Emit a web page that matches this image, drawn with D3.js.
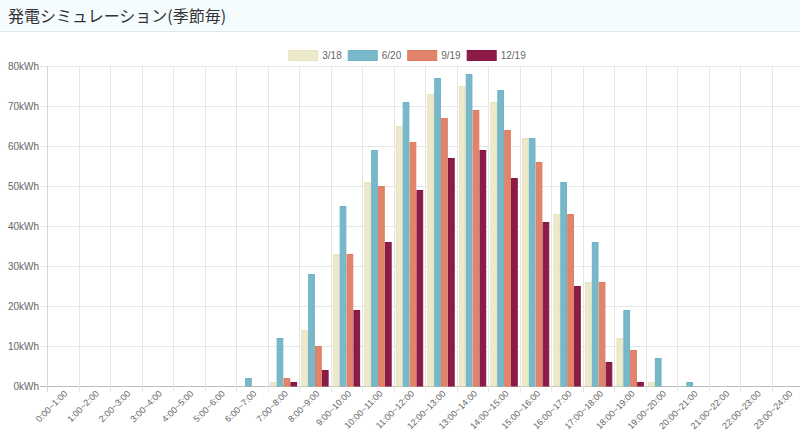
<!DOCTYPE html>
<meta charset="utf-8">
<script src="https://d3js.org/d3.v7.js"></script>
<style>
  body { margin: 0; background: #fff; font-family: "Liberation Sans", Arial, sans-serif; }
  #header { height: 31px; background: #f5fcfe; border-bottom: 1px solid #dde8ea; }
  #header h1 { margin: 0; padding: 4px 0 0 8px; font-size: 16px; font-weight: normal; color: #333;
    font-family: "Noto Sans CJK JP", sans-serif; line-height: 22px; }
</style>
<div id="header"><h1>発電シミュレーション(季節毎)</h1></div>
<div id="my_dataviz"></div>
<script>

// time slots
const hours = ["0:00~1:00","1:00~2:00","2:00~3:00","3:00~4:00","4:00~5:00","5:00~6:00",
  "6:00~7:00","7:00~8:00","8:00~9:00","9:00~10:00","10:00~11:00","11:00~12:00",
  "12:00~13:00","13:00~14:00","14:00~15:00","15:00~16:00","16:00~17:00","17:00~18:00",
  "18:00~19:00","19:00~20:00","20:00~21:00","21:00~22:00","22:00~23:00","23:00~24:00"];

const seasons = ["3/18", "6/20", "9/19", "12/19"];

// kWh per hour
const mar = [0,0,0,0,0,0,0,1,14,33,51,65,73,75,71,62,43,26,12,1,0,0,0,0];
const jun = [0,0,0,0,0,0,2,12,28,45,59,71,77,78,74,62,51,36,19,7,1,0,0,0];
const sep = [0,0,0,0,0,0,0,2,10,33,50,61,67,69,64,56,43,26,9,0,0,0,0,0];
const dec = [0,0,0,0,0,0,0,1,4,19,36,49,57,59,52,41,25,6,1,0,0,0,0,0];

const yTicks = [0,10,20,30,40,50,60,70,80];

const fills   = ["#ede9cb", "#78b8c9", "#e2846b", "#8d1b47"];
const strokes = ["#e8e2bd", "#6db3c5", "#dd7a60", "#851540"];

const seriesData = [mar, jun, sep, dec];

const W = 800, H = 402;
const svg = d3.select("#my_dataviz").append("svg")
  .attr("width", W).attr("height", H)
  .style("display", "block");

// plot area in page coords minus header (32px)
const top0 = 32;
const x0 = d3.scaleBand().domain(hours).range([47, 803.5]).paddingInner(0).paddingOuter(0);
const x1 = d3.scaleBand().domain(seasons).range([0, x0.bandwidth()]).paddingOuter(0.3).paddingInner(0.03);
const y = d3.scaleLinear().domain([0, 80]).range([386 - top0, 66 - top0]);

// grid
const grid = svg.append("g");
grid.selectAll("line.h").data(yTicks).join("line")
  .attr("x1", 40).attr("x2", W)
  .attr("y1", d => Math.round(y(d)) + 0.5).attr("y2", d => Math.round(y(d)) + 0.5)
  .attr("stroke", d => d === 0 ? "#bdbdbd" : "#e6e6e6").attr("stroke-width", 1);
grid.selectAll("line.v").data(hours.concat(["end"])).join("line")
  .attr("x1", (d, i) => Math.round(47 + i * x0.step()) + 0.5)
  .attr("x2", (d, i) => Math.round(47 + i * x0.step()) + 0.5)
  .attr("y1", y(80)).attr("y2", y(0) + 6)
  .attr("stroke", (d, i) => i === 0 ? "#d6d6d6" : "#e6e6e6");

// y labels
svg.append("g").selectAll("text").data(yTicks).join("text")
  .attr("x", 39).attr("y", d => y(d))
  .attr("dy", "0.35em").attr("text-anchor", "end")
  .attr("font-size", 10).attr("fill", "#666")
  .text(d => d + "kWh");

// x labels
svg.append("g").selectAll("text").data(hours).join("text")
  .attr("transform", d => `translate(${x0(d) + x0.bandwidth() / 2 + 3},${y(0) + 6}) rotate(-45)`)
  .attr("text-anchor", "end").attr("dy", "0.35em")
  .attr("font-size", 9).attr("fill", "#666")
  .text(d => d);

// bars
seriesData.forEach((vals, si) => {
  svg.append("g").selectAll("rect").data(vals).join("rect")
    .attr("x", (d, i) => x0(hours[i]) + x1(seasons[si]) + 0.5)
    .attr("width", x1.bandwidth() - 1)
    .attr("y", d => y(d) + 0.5)
    .attr("height", d => Math.max(0, y(0) - y(d) - 0.5))
    .attr("fill", fills[si])
    .attr("stroke", d => d > 0 ? strokes[si] : "none")
    .attr("stroke-width", 1);
});

// legend
const leg = svg.append("g").attr("font-size", 10).attr("fill", "#666");
const boxW = 30, boxH = 10, gapT = 4, gapI = 6;
const tmp = leg.append("text").text("");
const widths = seasons.map(s => { tmp.text(s); return tmp.node().getComputedTextLength(); });
tmp.remove();
const total = d3.sum(widths) + seasons.length * (boxW + gapT) + (seasons.length - 1) * gapI;
let lx = 407 - total / 2;
seasons.forEach((s, i) => {
  leg.append("rect").attr("x", lx + 0.5).attr("y", 50 - top0 + 0.5)
    .attr("width", boxW - 1).attr("height", boxH)
    .attr("fill", fills[i]).attr("stroke", strokes[i]);
  leg.append("text").attr("x", lx + boxW + gapT).attr("y", 55 - top0)
    .attr("dy", "0.35em").text(s);
  lx += boxW + gapT + widths[i] + gapI;
});

</script>
